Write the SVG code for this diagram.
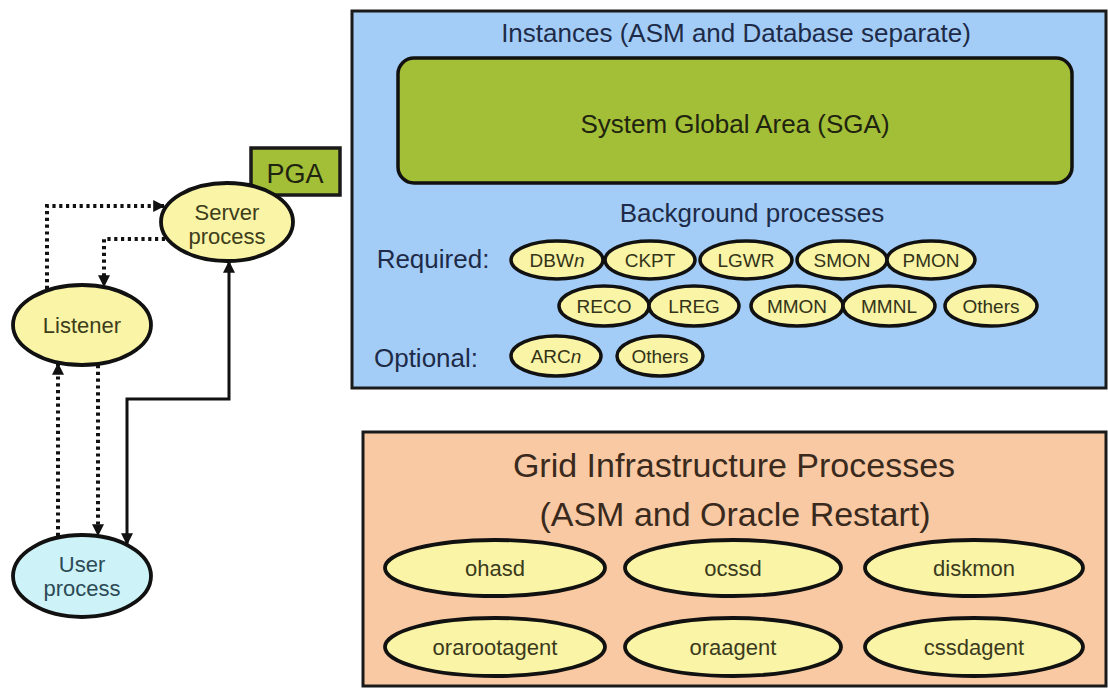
<svg xmlns="http://www.w3.org/2000/svg" width="1108" height="688" viewBox="0 0 1108 688">
  <defs>
    <marker id="arrow" viewBox="0 0 10 10" refX="9" refY="5" markerWidth="12" markerHeight="12" markerUnits="userSpaceOnUse" orient="auto-start-reverse">
      <path d="M0,0 L10,5 L0,10 z" fill="#111"/>
    </marker>
  </defs>
  <style>
    text { font-family: "Liberation Sans", Arial, sans-serif; text-anchor: middle; }
    .panel { stroke: #1a1a1a; stroke-width: 3; }
    .proc { fill: #f9f4a6; stroke: #111; stroke-width: 3.5; }
    .big { fill: #f9f4a6; stroke: #111; stroke-width: 3.8; }
    .lbl { font-size: 19px; fill: #333318; }
    .glbl { font-size: 22px; fill: #3b3a1c; }
    .node { font-size: 22px; fill: #3d3d1a; }
    .head { font-size: 26px; fill: #1e2b48; }
    .dot { fill: none; stroke: #111; stroke-width: 4; stroke-dasharray: 3.2 3.6; }
    .solid { fill: none; stroke: #111; stroke-width: 3; }
  </style>

  <rect width="1108" height="688" fill="#ffffff"/>

  <!-- Instance panel -->
  <g id="instances">
    <rect class="panel" x="352" y="11" width="754" height="377" fill="#a3cdf7"/>
    <text class="head" x="736" y="42">Instances (ASM and Database separate)</text>
  </g>

  <g id="sga">
    <rect x="398" y="58" width="674" height="125" rx="16" fill="#a3bf37" stroke="#111" stroke-width="3.5"/>
    <text class="head" x="735" y="133" style="fill:#1f2410">System Global Area (SGA)</text>
  </g>

  <g id="background">
    <text class="head" x="752" y="222">Background processes</text>
    <text class="head" x="433" y="268">Required:</text>
    <text class="head" x="426" y="367">Optional:</text>
  </g>

  <!-- Required background processes -->
  <g id="dbwn"><ellipse class="proc" cx="557" cy="260" rx="46" ry="19"/><text class="lbl" x="557" y="267">DBW<tspan font-style="italic">n</tspan></text></g>
  <g id="ckpt"><ellipse class="proc" cx="650" cy="260" rx="45" ry="19"/><text class="lbl" x="650" y="267">CKPT</text></g>
  <g id="lgwr"><ellipse class="proc" cx="746" cy="260" rx="46" ry="19"/><text class="lbl" x="746" y="267">LGWR</text></g>
  <g id="smon"><ellipse class="proc" cx="842" cy="260" rx="45" ry="19"/><text class="lbl" x="842" y="267">SMON</text></g>
  <g id="pmon"><ellipse class="proc" cx="931" cy="260" rx="44" ry="19"/><text class="lbl" x="931" y="267">PMON</text></g>

  <g id="reco"><ellipse class="proc" cx="604" cy="306" rx="45" ry="20"/><text class="lbl" x="604" y="313">RECO</text></g>
  <g id="lreg"><ellipse class="proc" cx="694" cy="306" rx="45" ry="20"/><text class="lbl" x="694" y="313">LREG</text></g>
  <g id="mmon"><ellipse class="proc" cx="797" cy="306" rx="46" ry="20"/><text class="lbl" x="797" y="313">MMON</text></g>
  <g id="mmnl"><ellipse class="proc" cx="889" cy="306" rx="46" ry="20"/><text class="lbl" x="889" y="313">MMNL</text></g>
  <g id="others-req"><ellipse class="proc" cx="991" cy="306" rx="46" ry="20"/><text class="lbl" x="991" y="313">Others</text></g>

  <!-- Optional background processes -->
  <g id="arcn"><ellipse class="proc" cx="556" cy="356" rx="45" ry="20"/><text class="lbl" x="556" y="363">ARC<tspan font-style="italic">n</tspan></text></g>
  <g id="others-opt"><ellipse class="proc" cx="660" cy="356" rx="43" ry="20"/><text class="lbl" x="660" y="363">Others</text></g>

  <!-- Grid Infrastructure panel -->
  <g id="grid">
    <rect class="panel" x="363" y="432" width="743" height="254" fill="#f8c9a2"/>
    <text x="734" y="477" font-size="34" fill="#3a2a1e">Grid Infrastructure Processes</text>
    <text x="735" y="526" font-size="34" fill="#3a2a1e">(ASM and Oracle Restart)</text>
  </g>

  <g id="ohasd"><ellipse class="big" cx="495" cy="568" rx="110" ry="28"/><text class="glbl" x="495" y="576">ohasd</text></g>
  <g id="ocssd"><ellipse class="big" cx="733" cy="568" rx="108" ry="28"/><text class="glbl" x="733" y="576">ocssd</text></g>
  <g id="diskmon"><ellipse class="big" cx="974" cy="568" rx="109" ry="28"/><text class="glbl" x="974" y="576">diskmon</text></g>
  <g id="orarootagent"><ellipse class="big" cx="495" cy="647" rx="110" ry="29"/><text class="glbl" x="495" y="655">orarootagent</text></g>
  <g id="oraagent"><ellipse class="big" cx="733" cy="647" rx="108" ry="29"/><text class="glbl" x="733" y="655">oraagent</text></g>
  <g id="cssdagent"><ellipse class="big" cx="974" cy="647" rx="109" ry="29"/><text class="glbl" x="974" y="655">cssdagent</text></g>

  <!-- Client side -->
  <g id="pga">
    <rect x="251" y="148" width="89" height="47" fill="#a3bf37" stroke="#1a1a1a" stroke-width="3.5"/>
    <text x="295" y="183" font-size="27" fill="#1f2410">PGA</text>
  </g>

  <g id="server">
    <ellipse class="big" cx="227" cy="222" rx="66" ry="39"/>
    <text class="node" x="227" y="220">Server</text>
    <text class="node" x="227" y="244">process</text>
  </g>

  <g id="listener">
    <ellipse class="big" cx="82" cy="325" rx="69" ry="40"/>
    <text class="node" x="82" y="333" font-size="22.5">Listener</text>
  </g>

  <g id="user">
    <ellipse cx="82" cy="576" rx="69" ry="41" fill="#cdf3f8" stroke="#111" stroke-width="3.8"/>
    <text class="node" x="82" y="572" style="fill:#2c4a55">User</text>
    <text class="node" x="82" y="596" style="fill:#2c4a55">process</text>
  </g>

  <!-- Connections -->
  <g id="connectors">
    <path class="dot" d="M47,289 V206 H164" marker-end="url(#arrow)"/>
    <path class="dot" d="M165,239 H104 V286" marker-end="url(#arrow)"/>
    <path class="dot" d="M58,536 V364" marker-end="url(#arrow)"/>
    <path class="dot" d="M98,365 V535" marker-end="url(#arrow)"/>
    <path class="solid" d="M229,262 V399 H127 V544" marker-start="url(#arrow)" marker-end="url(#arrow)"/>
  </g>
</svg>
